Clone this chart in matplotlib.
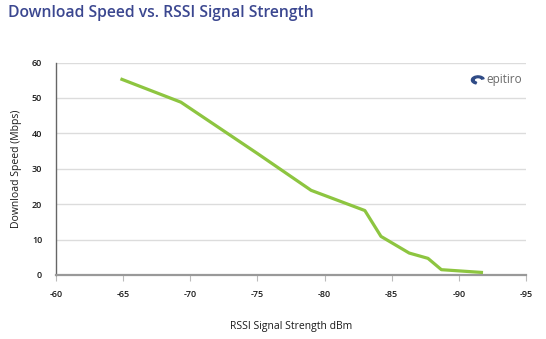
import matplotlib
matplotlib.use("Agg")
import matplotlib.pyplot as plt
from matplotlib.patches import Wedge

rssi = [-64.8, -69.3, -75.0, -79.0, -83.0, -84.2, -86.3, -87.7, -88.7, -91.8]
speed = [55.4, 48.8, 34.3, 23.9, 18.2, 10.9, 6.2, 4.7, 1.5, 0.7]
x_ticks = [-60, -65, -70, -75, -80, -85, -90, -95]
y_ticks = [0, 10, 20, 30, 40, 50, 60]

plt.rcParams['font.family'] = ['Open Sans', 'DejaVu Sans']

fig = plt.figure(figsize=(5.46, 3.39), dpi=100)
ax = fig.add_axes([56/546, 1-275/339, 470/546, 212.5/339])

ax.plot(rssi, speed, color='#8dc540', lw=2.3, solid_capstyle='butt', solid_joinstyle='round', zorder=3)

ax.set_xlim(-60, -95)
ax.set_ylim(0, 60)
ax.set_xticks(x_ticks)
ax.set_xticklabels([str(t) for t in x_ticks])
ax.set_yticks(y_ticks)
ax.set_yticklabels([str(t) for t in y_ticks])
ax.yaxis.grid(True, color='#dcdcdc', lw=1)
ax.set_axisbelow(True)
for s in ['top', 'right']:
    ax.spines[s].set_visible(False)
ax.spines['left'].set_color('#666666')
ax.spines['left'].set_linewidth(1.0)
ax.spines['bottom'].set_color('#999999')
ax.spines['bottom'].set_linewidth(1.6)
ax.tick_params(axis='y', length=0, pad=10, labelsize=6.5, labelcolor='#1a1a1a')
ax.tick_params(axis='x', length=4, width=0.8, color='#bbbbbb', pad=7, labelsize=6.5, labelcolor='#1a1a1a')
for lab in ax.get_xticklabels() + ax.get_yticklabels():
    lab.set_fontweight('semibold')

ax.set_xlabel('RSSI Signal Strength dBm', fontsize=7.5, color='#1a1a1a', labelpad=16)
ax.set_ylabel('Download Speed (Mbps)', fontsize=7.5, color='#1a1a1a', labelpad=7)

fig.text(8/546, 1-13/339, 'Download Speed vs. RSSI Signal Strength', fontsize=11.3,
         color='#3b4790', ha='left', va='center', fontweight='semibold')

# logo
fig.text(486/546, 1-80/339, 'epitiro', fontsize=8.5, color='#6a6a6a', ha='left', va='center')
fig.patches.append(Wedge((478/546, 1-80/339), 0.012, 20, 250, width=0.005,
                         transform=fig.transFigure, color='#2f4b86'))

fig.savefig('out.png', dpi=100)
